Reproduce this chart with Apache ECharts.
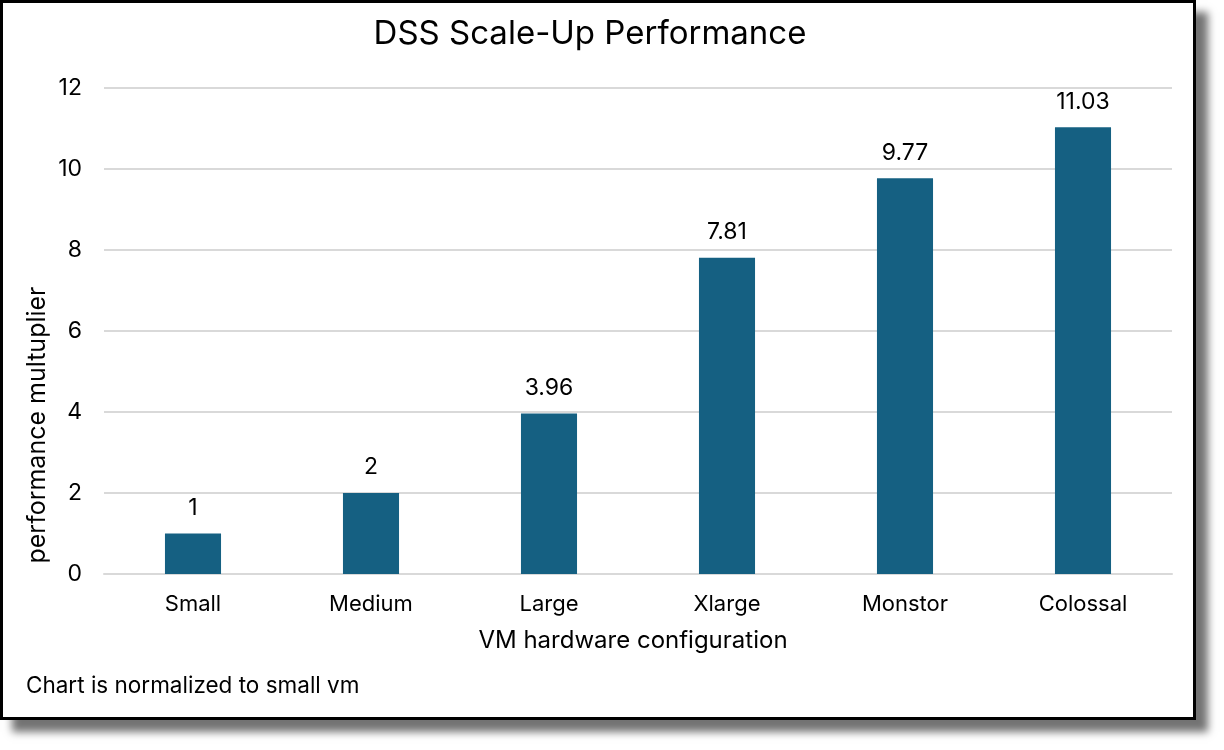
<!DOCTYPE html>
<html>
<head>
<meta charset="utf-8">
<script src="https://cdn.jsdelivr.net/npm/echarts@6/dist/echarts.min.js"></script>
<style>
    body { margin: 0; background: #ffffff; }
    #frame {
        position: absolute;
        left: 0;
        top: 0;
        width: 1190px;
        height: 714px;
        border: 3px solid #000000;
        background: #ffffff;
        box-shadow: 12px 12px 8px rgba(0, 0, 0, 0.55);
    }
    #chart { width: 1190px; height: 714px; }
</style>
</head>
<body>
<div id="frame"><div id="chart"></div></div>
<script>
// Chart data
var categories = ['Small', 'Medium', 'Large', 'Xlarge', 'Monstor', 'Colossal'];
var multipliers = [1, 2, 3.96, 7.81, 9.77, 11.03];
var yTicks = [0, 2, 4, 6, 8, 10, 12];

var fontName = 'Inter, "Noto Sans", sans-serif';
var chart = echarts.init(document.getElementById('chart'));

chart.setOption({
    animation: false,
    textStyle: { fontFamily: fontName },
    grid: {
        left: 101,
        right: 21,
        top: 85,
        bottom: 143
    },
    xAxis: {
        type: 'category',
        data: categories,
        name: 'VM hardware configuration',
        nameLocation: 'middle',
        nameGap: 55,
        nameTextStyle: { color: '#000000', fontSize: 24, fontFamily: fontName, padding: [0, 10, 0, 0] },
        axisLine: { lineStyle: { color: '#d9d9d9', width: 2 } },
        axisTick: { show: false },
        axisLabel: { color: '#000000', fontSize: 22, margin: 19, fontFamily: fontName }
    },
    yAxis: {
        type: 'value',
        min: yTicks[0],
        max: yTicks[yTicks.length - 1],
        interval: 2,
        axisLine: { show: false },
        axisTick: { show: false },
        axisLabel: { color: '#000000', fontSize: 23, margin: 22, fontFamily: fontName },
        splitLine: { lineStyle: { color: '#d9d9d9', width: 2 } }
    },
    series: [
        {
            type: 'bar',
            data: multipliers,
            barWidth: '31.5%',
            itemStyle: { color: '#156082' },
            label: {
                show: true,
                position: 'top',
                distance: 14,
                color: '#000000',
                fontSize: 23,
                fontFamily: fontName
            }
        }
    ],
    graphic: [
        {
            // chart title
            type: 'text',
            x: 587,
            y: 31,
            style: {
                text: 'DSS Scale-Up Performance',
                fill: '#000000',
                font: '33px ' + fontName,
                align: 'center',
                verticalAlign: 'middle'
            }
        },
        {
            // y axis title, placed like the original
            type: 'text',
            x: 34,
            y: 422,
            rotation: Math.PI / 2,
            style: {
                text: 'performance multuplier',
                fill: '#000000',
                font: '25px ' + fontName,
                align: 'center',
                verticalAlign: 'middle'
            }
        },
        {
            // footnote
            type: 'text',
            x: 23,
            y: 683,
            style: {
                text: 'Chart is normalized to small vm',
                fill: '#000000',
                font: '22.5px ' + fontName,
                verticalAlign: 'middle'
            }
        }
    ]
});
</script>
</body>
</html>
